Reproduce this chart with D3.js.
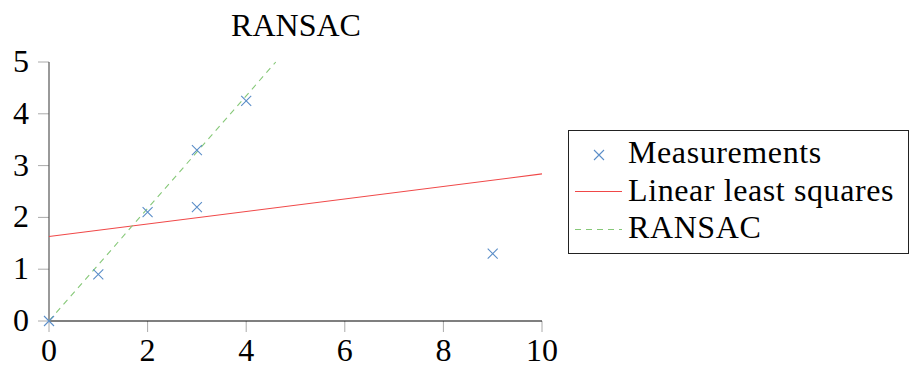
<!DOCTYPE html>
<html>
<head>
<meta charset="utf-8">
<script src="https://cdn.jsdelivr.net/npm/d3@7"></script>
</head>
<body style="margin:0">
<svg id="chart" width="912" height="367"></svg>
<script>
const measX = [0, 1, 2, 3, 3, 4, 9]
const measY = [0, 0.9, 2.1, 3.3, 2.2, 4.25, 1.3]
// fitted lines, as endpoints
const lsqLine = [[0, 1.63], [10, 2.84]]
const ransacLine = [[0, 0], [4.6, 5]]
const xTicks = [0, 2, 4, 6, 8, 10]
const yTicks = [0, 1, 2, 3, 4, 5]
const legendLabels = ['Measurements', 'Linear least squares', 'RANSAC']

const blue = '#5b8ec8'
const red = '#f04848'
const green = '#86c878'

const svg = d3.select('#chart')
const serif = '"Liberation Serif", "Times New Roman", Tinos, FreeSerif, serif'

const x = d3.scaleLinear().domain([0, 10]).range([49, 542])
const y = d3.scaleLinear().domain([0, 5]).range([321, 62])

function label (sel) {
  sel.attr('font-family', serif)
    .style('font-family', serif)
    .style('font-size', '32px')
}

// title
svg.append('text')
  .attr('x', 296).attr('y', 36)
  .attr('text-anchor', 'middle')
  .call(label)
  .text('RANSAC')

// ticks
svg.append('g').selectAll('line')
  .data(xTicks)
  .join('line')
  .attr('x1', d => x(d)).attr('x2', d => x(d))
  .attr('y1', y(0)).attr('y2', y(0) + 11)
  .attr('stroke', '#aaa').attr('stroke-width', 1)

svg.append('g').selectAll('line')
  .data(yTicks)
  .join('line')
  .attr('x1', x(0) - 11).attr('x2', x(0))
  .attr('y1', d => y(d)).attr('y2', d => y(d))
  .attr('stroke', '#aaa').attr('stroke-width', 1)

// tick labels
svg.selectAll('text.xt')
  .data(xTicks)
  .join('text')
  .attr('class', 'xt')
  .attr('x', d => x(d)).attr('y', 361)
  .attr('text-anchor', 'middle')
  .call(label)
  .text(d => d)

svg.selectAll('text.yt')
  .data(yTicks)
  .join('text')
  .attr('class', 'yt')
  .attr('x', 29).attr('y', d => y(d) + 10)
  .attr('text-anchor', 'end')
  .call(label)
  .text(d => d)

// axis lines
svg.append('line')
  .attr('x1', x(0)).attr('x2', x(0))
  .attr('y1', y(5)).attr('y2', y(0))
  .attr('stroke', '#555').attr('stroke-width', 1.2)
svg.append('line')
  .attr('x1', x(0)).attr('x2', x(10))
  .attr('y1', y(0)).attr('y2', y(0))
  .attr('stroke', '#000').attr('stroke-width', 1.2)

const line = d3.line().x(d => x(d[0])).y(d => y(d[1]))

svg.append('path')
  .datum(lsqLine)
  .attr('d', line)
  .attr('fill', 'none')
  .attr('stroke', red).attr('stroke-width', 1.1)

svg.append('path')
  .datum(ransacLine)
  .attr('d', line)
  .attr('fill', 'none')
  .attr('stroke', green).attr('stroke-width', 1.1)
  .attr('stroke-dasharray', '6,5')

function cross (g, cx, cy) {
  const s = 5
  g.append('path')
    .attr('d', `M${cx - s},${cy - s}L${cx + s},${cy + s}M${cx - s},${cy + s}L${cx + s},${cy - s}`)
    .attr('stroke', blue).attr('stroke-width', 1.1).attr('fill', 'none')
}

const marks = svg.append('g')
measX.forEach((d, i) => cross(marks, x(d), y(measY[i])))

// legend
svg.append('rect')
  .attr('x', 568.5).attr('y', 130.5)
  .attr('width', 340).attr('height', 123)
  .attr('fill', '#fff').attr('stroke', '#222').attr('stroke-width', 1)

const rowY = [163, 201, 238]
svg.selectAll('text.lg')
  .data(legendLabels)
  .join('text')
  .attr('class', 'lg')
  .attr('x', 628).attr('y', (d, i) => rowY[i])
  .call(label)
  .style('letter-spacing', '0.6px')
  .text(d => d)

cross(svg, 599, 155)
svg.append('line')
  .attr('x1', 575).attr('x2', 622).attr('y1', 191.5).attr('y2', 191.5)
  .attr('stroke', red).attr('stroke-width', 1.1)
svg.append('line')
  .attr('x1', 575).attr('x2', 622).attr('y1', 229.5).attr('y2', 229.5)
  .attr('stroke', green).attr('stroke-width', 1.1)
  .attr('stroke-dasharray', '6,5')
</script>
</body>
</html>
